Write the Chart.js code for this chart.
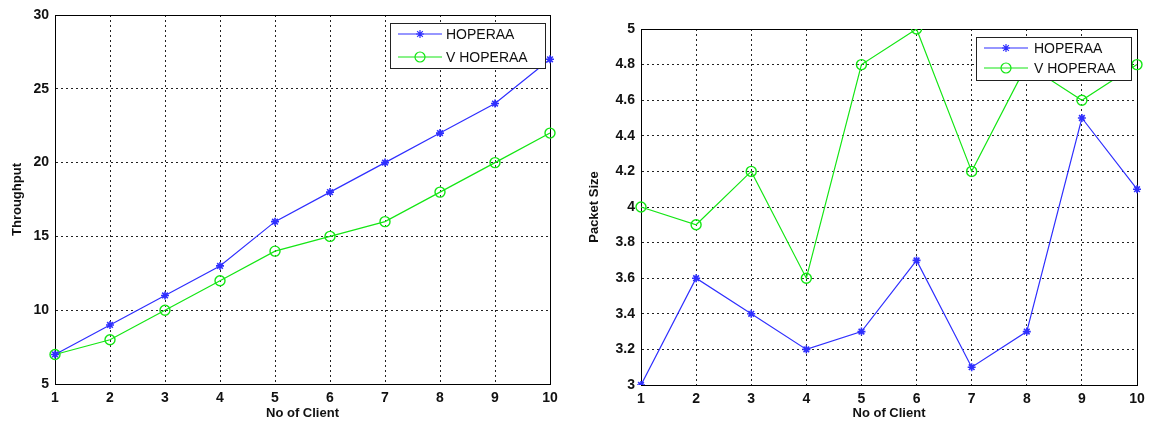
<!DOCTYPE html>
<html>
<head>
<meta charset="utf-8">
<script src="https://cdn.jsdelivr.net/npm/chart.js@4.4.0/dist/chart.umd.min.js"></script>
<style>
  body { margin: 0; background: #fff; }
  .box { position: absolute; top: 0; height: 424px; }
</style>
</head>
<body>
<div class="box" style="left:0;width:565px"><canvas id="chartThroughput"></canvas></div>
<div class="box" style="left:575px;width:579px"><canvas id="chartPacket"></canvas></div>
<script>
// datos
const clients = [1, 2, 3, 4, 5, 6, 7, 8, 9, 10];
const seriesNames = ['HOPERAA', 'V HOPERAA'];
const throughputHoperaa = [7, 9, 11, 13, 16, 18, 20, 22, 24, 27];
const throughputVHoperaa = [7, 8, 10, 12, 14, 15, 16, 18, 20, 22];
const packetHoperaa = [3.0, 3.6, 3.4, 3.2, 3.3, 3.7, 3.1, 3.3, 4.5, 4.1];
const packetVHoperaa = [4.0, 3.9, 4.2, 3.6, 4.8, 5.0, 4.2, 4.8, 4.6, 4.8];

const BLUE = '#2f2fff';
const GREEN = '#14e614';
const tickFont = { family: 'Liberation Sans', size: 14, weight: 'bold' };
const titleFont = { family: 'Liberation Sans', size: 13, weight: 'bold' };

// caja negra alrededor del área (estilo MATLAB)
const boxPlugin = {
    id: 'box',
    beforeDatasetsDraw(chart) {
        const a = chart.chartArea, ctx = chart.ctx;
        ctx.save();
        ctx.strokeStyle = '#000';
        ctx.lineWidth = 1;
        ctx.strokeRect(a.left + 0.5, a.top + 0.5, a.right - a.left, a.bottom - a.top);
        ctx.restore();
    }
};

// leyenda dentro del gráfico
const legendBoxPlugin = {
    id: 'legendBox',
    afterDraw(chart, args, opts) {
        const ctx = chart.ctx;
        const b = opts.box;
        ctx.save();
        ctx.fillStyle = '#fff';
        ctx.fillRect(b.x, b.y, b.w, b.h);
        ctx.strokeStyle = '#222';
        ctx.lineWidth = 1;
        ctx.strokeRect(b.x + 0.5, b.y + 0.5, b.w, b.h);
        chart.data.datasets.forEach((ds, i) => {
            const y = b.y + opts.rows[i];
            ctx.strokeStyle = ds.borderColor;
            ctx.lineWidth = 1.2;
            ctx.beginPath();
            ctx.moveTo(b.x + opts.lineX0, y);
            ctx.lineTo(b.x + opts.lineX1, y);
            ctx.stroke();
            ctx.fillStyle = ds.pointBackgroundColor;
            Chart.helpers.drawPoint(ctx, {
                pointStyle: ds.pointStyle,
                radius: ds.pointRadius,
                borderWidth: ds.pointBorderWidth,
                rotation: 0
            }, b.x + (opts.lineX0 + opts.lineX1) / 2, y);
            ctx.fillStyle = '#111';
            ctx.font = '14px "Liberation Sans"';
            ctx.textBaseline = 'middle';
            ctx.fillText(ds.label, b.x + opts.textX, y + 1);
        });
        ctx.restore();
    }
};

function makeChart(id, s1, s2, yCfg, layout) {
    const ctx = document.getElementById(id).getContext('2d');
    return new Chart(ctx, {
        type: 'line',
        data: {
            labels: clients,
            datasets: [{
                label: seriesNames[0],
                data: s1,
                borderColor: BLUE,
                borderWidth: 1.2,
                pointStyle: 'star',
                pointRadius: 4,
                pointBorderWidth: 1.6,
                pointBorderColor: BLUE,
                pointBackgroundColor: BLUE,
                tension: 0
            }, {
                label: seriesNames[1],
                data: s2,
                borderColor: GREEN,
                borderWidth: 1.2,
                pointStyle: 'circle',
                pointRadius: 5,
                pointBorderWidth: 1.4,
                pointBorderColor: GREEN,
                pointBackgroundColor: 'rgba(0,0,0,0)',
                tension: 0
            }]
        },
        options: {
            responsive: true,
            maintainAspectRatio: false,
            animation: false,
            layout: { padding: layout.padding },
            plugins: {
                legend: { display: false },
                tooltip: { enabled: false },
                legendBox: layout.legend
            },
            scales: {
                x: {
                    offset: false,
                    grid: { color: '#222', drawTicks: false },
                    border: { color: '#000', dash: [2, 3] },
                    ticks: { font: tickFont, color: '#111', padding: 6, maxRotation: 0 },
                    title: { display: true, text: 'No of Client', font: titleFont, color: '#111', padding: { top: 0, bottom: 3 } },
                    afterFit(scale) { scale.height = layout.xHeight; }
                },
                y: {
                    min: yCfg.min,
                    max: yCfg.max,
                    grid: { color: '#222', drawTicks: false },
                    border: { color: '#000', dash: [2, 3] },
                    ticks: {
                        stepSize: yCfg.step, font: tickFont, color: '#111', padding: 6,
                        callback: v => String(Number(v.toFixed(1)))
                    },
                    title: { display: true, text: yCfg.title, font: titleFont, color: '#111', padding: { top: layout.yTitlePad, bottom: 0 } },
                    afterFit(scale) { scale.width = layout.yWidth; }
                }
            }
        },
        plugins: [boxPlugin, legendBoxPlugin]
    });
}

makeChart('chartThroughput', throughputHoperaa, throughputVHoperaa,
    { min: 5, max: 30, step: 5, title: 'Throughput' },
    {
        padding: { top: 15, right: 15, bottom: 0, left: 0 },
        xHeight: 40, yWidth: 55, yTitlePad: 10,
        legend: { box: { x: 390, y: 23, w: 155, h: 45 }, rows: [11, 34], lineX0: 8, lineX1: 52, textX: 56 }
    });

makeChart('chartPacket', packetHoperaa, packetVHoperaa,
    { min: 3, max: 5, step: 0.2, title: 'Packet Size' },
    {
        padding: { top: 29, right: 17, bottom: 0, left: 0 },
        xHeight: 39, yWidth: 66, yTitlePad: 12,
        legend: { box: { x: 401, y: 37, w: 155, h: 43 }, rows: [11, 31], lineX0: 8, lineX1: 52, textX: 58 }
    });
</script>
</body>
</html>
